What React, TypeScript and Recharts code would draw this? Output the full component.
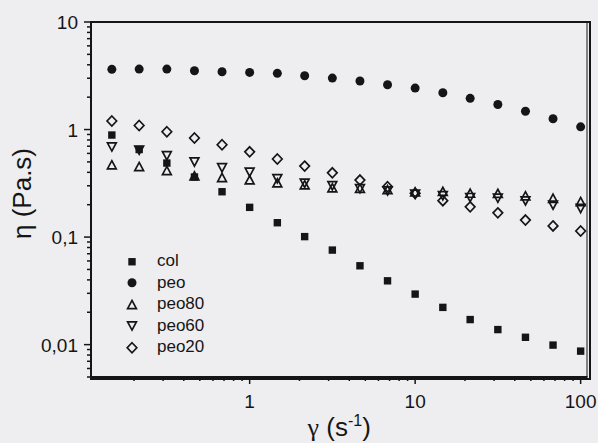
import React from 'react';
import { ScatterChart, Scatter, XAxis, YAxis, Legend, Label } from 'recharts';

// shear rate (s-1), same grid for every sample
const SHEAR = [0.147, 0.215, 0.316, 0.464, 0.681, 1, 1.47, 2.15, 3.16, 4.64, 6.81, 10, 14.7, 21.5, 31.6, 46.4, 68.1, 100];

// viscosity (Pa.s)
const COL = [0.889, 0.652, 0.488, 0.362, 0.264, 0.189, 0.136, 0.101, 0.0757, 0.0541, 0.0392, 0.0295, 0.0222, 0.0171, 0.0138, 0.0117, 0.0099, 0.0087];
const PEO = [3.63, 3.65, 3.65, 3.52, 3.45, 3.4, 3.33, 3.16, 3.01, 2.83, 2.61, 2.43, 2.2, 1.95, 1.71, 1.48, 1.26, 1.06];
const PEO80 = [0.468, 0.451, 0.414, 0.369, 0.357, 0.339, 0.318, 0.305, 0.286, 0.283, 0.275, 0.262, 0.265, 0.255, 0.254, 0.241, 0.229, 0.213];
const PEO60 = [0.692, 0.645, 0.573, 0.501, 0.443, 0.402, 0.35, 0.318, 0.301, 0.283, 0.27, 0.251, 0.243, 0.234, 0.231, 0.218, 0.199, 0.185];
const PEO20 = [1.2, 1.09, 0.954, 0.834, 0.722, 0.621, 0.532, 0.457, 0.396, 0.339, 0.294, 0.255, 0.218, 0.191, 0.168, 0.144, 0.127, 0.114];

const X_MAJOR = [1, 10, 100];
const X_TICKS = [0.2, 0.3, 0.4, 0.5, 0.6, 0.7, 0.8, 0.9, 1, 2, 3, 4, 5, 6, 7, 8, 9, 10, 20, 30, 40, 50, 60, 70, 80, 90, 100];
const Y_MAJOR = [0.01, 0.1, 1, 10];
const Y_TICKS = [0.005, 0.006, 0.007, 0.008, 0.009, 0.01, 0.02, 0.03, 0.04, 0.05, 0.06, 0.07, 0.08, 0.09, 0.1, 0.2, 0.3, 0.4, 0.5, 0.6, 0.7, 0.8, 0.9, 1, 2, 3, 4, 5, 6, 7, 8, 9, 10];

const X_DOMAIN = [0.11, 110];
const Y_DOMAIN = [0.005, 10];

// top and right edges of the frame, as a line through the domain corners
const FRAME_EDGE = [
  { x: X_DOMAIN[0], y: Y_DOMAIN[1] },
  { x: X_DOMAIN[1], y: Y_DOMAIN[1] },
  { x: X_DOMAIN[1], y: Y_DOMAIN[0] },
];

const W = 598;
const H = 443;
const MARGIN = { top: 22, right: 10.5, bottom: 0, left: 0 };
const Y_AXIS_W = 91;
const X_AXIS_H = 66;

const INK = '#151515';
const SANS = '"Liberation Sans", Arial, sans-serif';

type Kind = 'square' | 'circle' | 'up' | 'down' | 'diamond';

const SERIES: { name: string; values: number[]; kind: Kind }[] = [
  { name: 'col', values: COL, kind: 'square' },
  { name: 'peo', values: PEO, kind: 'circle' },
  { name: 'peo80', values: PEO80, kind: 'up' },
  { name: 'peo60', values: PEO60, kind: 'down' },
  { name: 'peo20', values: PEO20, kind: 'diamond' },
];

function Mark({ kind, cx, cy }: { kind: Kind; cx: number; cy: number }) {
  const open = { fill: 'none', stroke: INK, strokeWidth: 1.7 };
  switch (kind) {
    case 'square':
      return <rect x={cx - 3.7} y={cy - 3.7} width={7.4} height={7.4} fill={INK} />;
    case 'circle':
      return <circle cx={cx} cy={cy} r={4.5} fill={INK} />;
    case 'up':
      return <path d={`M${cx},${cy - 4.3}L${cx + 4.4},${cy + 3.9}L${cx - 4.4},${cy + 3.9}Z`} {...open} />;
    case 'down':
      return <path d={`M${cx},${cy + 4.3}L${cx + 4.4},${cy - 3.9}L${cx - 4.4},${cy - 3.9}Z`} {...open} />;
    default:
      return <path d={`M${cx},${cy - 5}L${cx + 4.8},${cy}L${cx},${cy + 5}L${cx - 4.8},${cy}Z`} {...open} />;
  }
}

const fmt = (v: number) => String(v).replace('.', ',');

function XTick(props: any) {
  const { x, y, payload } = props;
  const major = X_MAJOR.includes(payload.value);
  return (
    <g>
      <line x1={x} x2={x} y1={y} y2={y + (major ? 7 : 4)} stroke={INK} strokeWidth={1.5} />
      {major && (
        <text x={x} y={y + 31} textAnchor="middle" fontSize={19} fontFamily={SANS} fill={INK}>
          {fmt(payload.value)}
        </text>
      )}
    </g>
  );
}

function YTick(props: any) {
  const { x, y, payload } = props;
  const major = Y_MAJOR.includes(payload.value);
  return (
    <g>
      <line x1={x} x2={x - (major ? 7 : 4)} y1={y} y2={y} stroke={INK} strokeWidth={1.5} />
      {major && (
        <text x={x - 13} y={y + 7} textAnchor="end" fontSize={19} fontFamily={SANS} fill={INK}>
          {fmt(payload.value)}
        </text>
      )}
    </g>
  );
}

function YTitle({ viewBox }: any) {
  const cx = viewBox.x + 31;
  const cy = viewBox.y + viewBox.height / 2 - 6;
  return (
    <text x={cx} y={cy} transform={`rotate(-90 ${cx} ${cy})`} textAnchor="middle" fontSize={26} fontFamily={SANS} fill={INK}>
      η (Pa.s)
    </text>
  );
}

function XTitle({ viewBox }: any) {
  return (
    <text x={viewBox.x + viewBox.width / 2} y={viewBox.y + 59} textAnchor="middle" fontSize={26} fontFamily={SANS} fill={INK}>
      <tspan fontFamily='"Liberation Serif", serif'>γ</tspan> (s<tspan dy={-10} fontSize={16}>-1</tspan><tspan dy={10}>)</tspan>
    </text>
  );
}

function LegendBox() {
  return (
    <div style={{ fontFamily: SANS, fontSize: 17, color: INK }}>
      {SERIES.map((s) => (
        <div key={s.name} style={{ display: 'flex', alignItems: 'center', height: 21.5 }}>
          <svg width={20} height={21.5}>
            <Mark kind={s.kind} cx={10} cy={10.75} />
          </svg>
          <span style={{ marginLeft: 15 }}>{s.name}</span>
        </div>
      ))}
    </div>
  );
}

export default function App() {
  const frame = { stroke: INK, strokeWidth: 2 };
  // box around the plot area, taken from the chart's own margins and axis sizes
  const box = {
    left: MARGIN.left + Y_AXIS_W - 1,
    top: MARGIN.top - 1,
    width: W - MARGIN.left - MARGIN.right - Y_AXIS_W,
    height: H - MARGIN.top - MARGIN.bottom - X_AXIS_H,
  };
  return (
    <div style={{ position: 'absolute', left: 0, top: 0, width: W, height: H, background: '#eeeef0' }}>
      <ScatterChart width={W} height={H} margin={MARGIN}>
        <XAxis
          dataKey="x"
          type="number"
          scale="log"
          domain={X_DOMAIN}
          allowDataOverflow
          ticks={X_TICKS}
          interval={0}
          tickLine={false}
          tickSize={0}
          tickMargin={0}
          tick={(p: any) => <XTick {...p} />}
          height={X_AXIS_H}
          axisLine={frame}
        >
          <Label content={(p: any) => <XTitle {...p} />} />
        </XAxis>
        <YAxis
          dataKey="y"
          type="number"
          scale="log"
          domain={Y_DOMAIN}
          allowDataOverflow
          ticks={Y_TICKS}
          interval={0}
          tickLine={false}
          tickSize={0}
          tickMargin={0}
          tick={(p: any) => <YTick {...p} />}
          width={Y_AXIS_W}
          axisLine={frame}
        >
          <Label content={(p: any) => <YTitle {...p} />} />
        </YAxis>
        <Scatter
          name="frame"
          data={FRAME_EDGE}
          line={frame}
          lineType="joint"
          legendType="none"
          isAnimationActive={false}
          shape={() => <g />}
        />
        {SERIES.map((s) => (
          <Scatter
            key={s.name}
            name={s.name}
            data={SHEAR.map((x, i) => ({ x, y: s.values[i] }))}
            isAnimationActive={false}
            shape={(p: any) => <Mark kind={s.kind} cx={p.cx} cy={p.cy} />}
          />
        ))}
        <Legend
          layout="vertical"
          align="center"
          verticalAlign="middle"
          content={() => <LegendBox />}
          wrapperStyle={{ left: 122, top: 250.5, width: 130 }}
        />
      </ScatterChart>
      <div
        style={{
          position: 'absolute',
          left: box.left,
          top: box.top,
          width: box.width,
          height: box.height,
          border: `2px solid ${INK}`,
          pointerEvents: 'none',
        }}
      />
    </div>
  );
}
